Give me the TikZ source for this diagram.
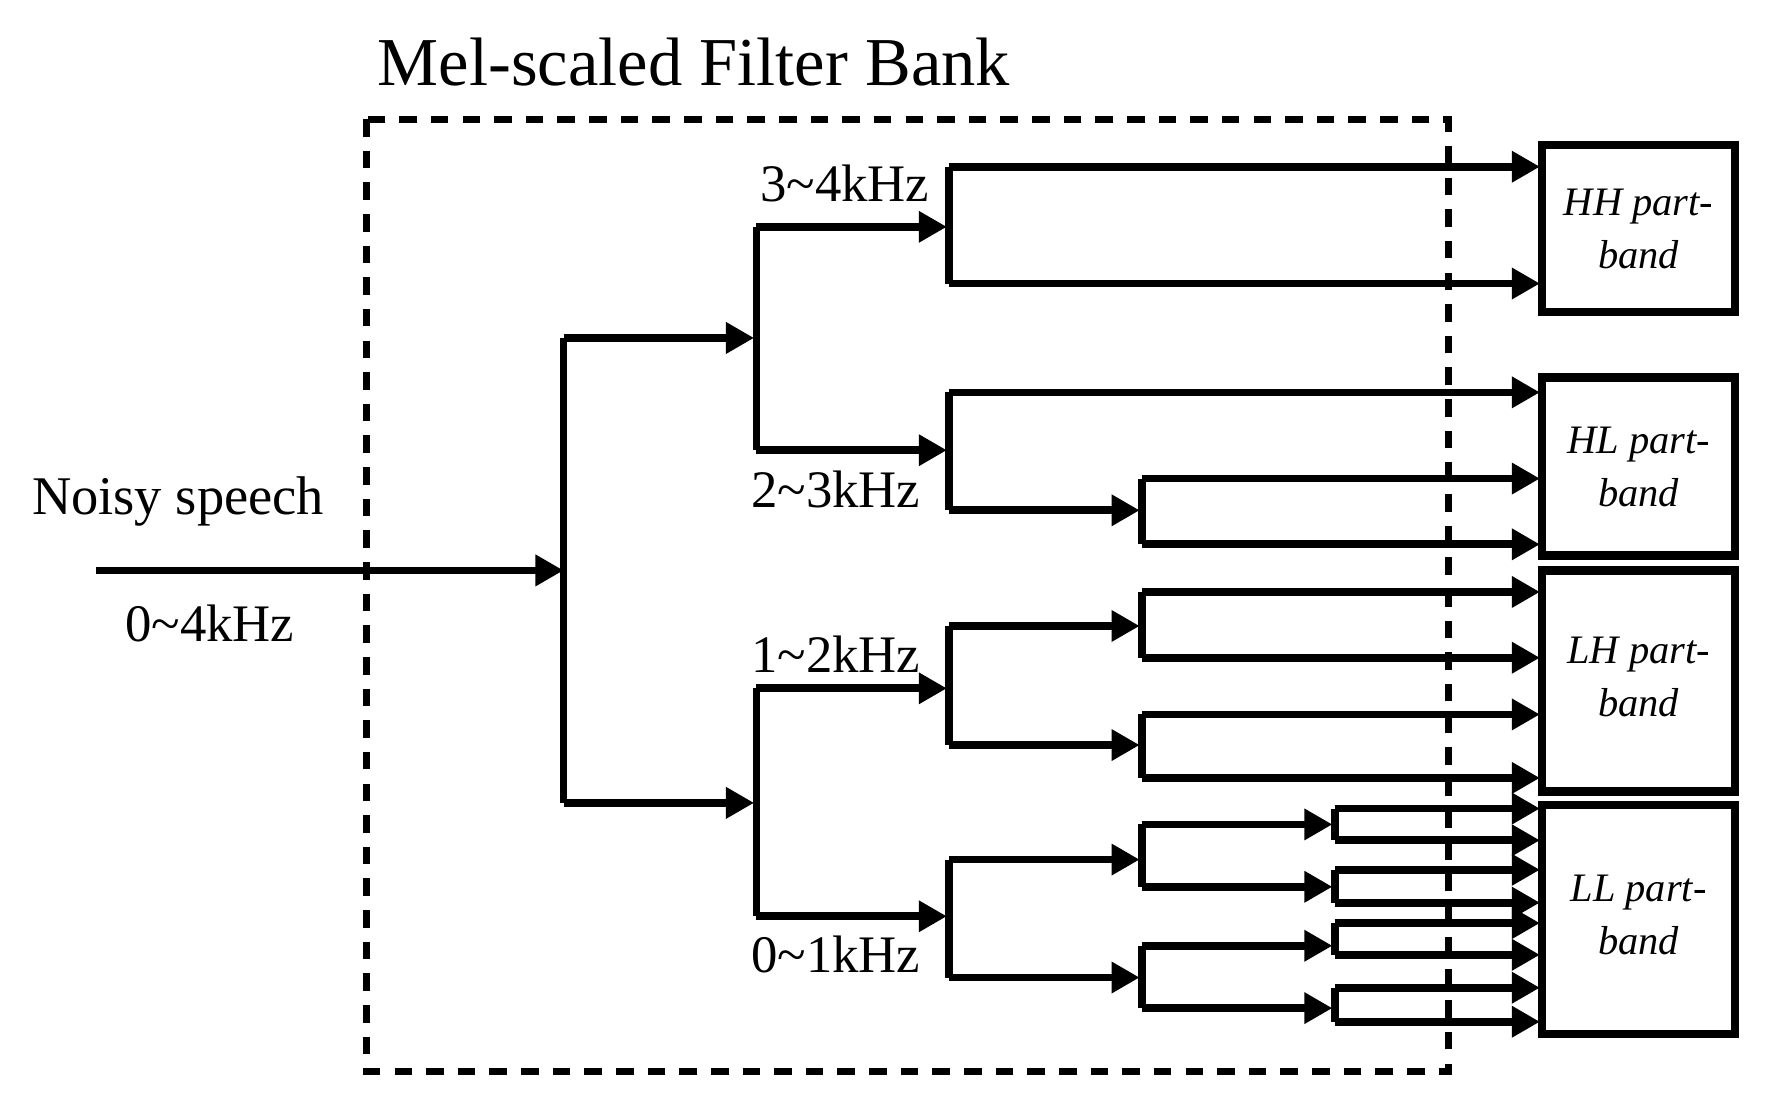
\documentclass[tikz,border=0pt]{standalone}
\usepackage{fontspec}
\setmainfont{Liberation Serif}
\usetikzlibrary{arrows.meta}
\tikzset{
  sig/.style={line width=2.2pt, -{Triangle[length=8pt,width=8.5pt]}},
  wire/.style={line width=2.2pt},
  band/.style={font=\fontsize{11.5}{15}\selectfont\itshape, align=center},
  freq/.style={font=\fontsize{15}{16}\selectfont}
}
\newcommand{\tld}{\textasciitilde}
\begin{document}
\begin{tikzpicture}[x=0.01134cm, y=-0.01134cm]
\useasboundingbox (0,0) rectangle (1560,978);
% filter bank frame
\draw[line width=2pt, dash pattern=on 5pt off 4pt] (323,105) rectangle (1277,945);
\node[font=\fontsize{19.5}{22}\selectfont] (title) at (612,55) {Mel-scaled Filter Bank};
% part-band boxes
\draw[line width=2.4pt] (1360,128) rectangle (1530,275);
\draw[line width=2.4pt] (1360,333) rectangle (1530,490);
\draw[line width=2.4pt] (1360,503) rectangle (1530,698);
\draw[line width=2.4pt] (1360,710) rectangle (1530,912);
\node[band] (hh) at (1445,202) {HH part-\\band};
\node[band] (hl) at (1445,412) {HL part-\\band};
\node[band] (lh) at (1445,597) {LH part-\\band};
\node[band] (ll) at (1445,807) {LL part-\\band};
% input
\coordinate (in) at (85,503);
\coordinate (s0) at (497,503);
\draw[sig] (in) -- (s0);
\node[font=\fontsize{15.5}{17}\selectfont] (noisy) at (157,442) {Noisy speech};
\node[freq] (full) at (185,550) {0\tld4kHz};
% first split
\draw[wire] (497,298) -- (497,708);
\draw[sig] (497,298) -- (665,298);
\draw[sig] (497,708) -- (665,708);
% second split
\draw[wire] (667,200) -- (667,397);
\draw[sig] (667,200) -- (835,200);
\draw[sig] (667,397) -- (835,397);
\draw[wire] (667,607) -- (667,808);
\draw[sig] (667,607) -- (835,607);
\draw[sig] (667,808) -- (835,808);
\node[freq] (f34) at (745,162) {3\tld4kHz};
\node[freq] (f23) at (737,432) {2\tld3kHz};
\node[freq] (f12) at (737,577) {1\tld2kHz};
\node[freq] (f01) at (737,842) {0\tld1kHz};
% 3~4kHz
\draw[wire] (837,147) -- (837,250);
\draw[sig] (837,147) -- (1358,147);
\draw[sig] (837,250) -- (1358,250);
% 2~3kHz
\draw[wire] (837,346) -- (837,450);
\draw[sig] (837,346) -- (1358,346);
\draw[sig] (837,450) -- (1005,450);
\draw[wire] (1007,422) -- (1007,480);
\draw[sig] (1007,422) -- (1358,422);
\draw[sig] (1007,480) -- (1358,480);
% 1~2kHz
\draw[wire] (837,552) -- (837,657);
\draw[sig] (837,552) -- (1005,552);
\draw[sig] (837,657) -- (1005,657);
\draw[wire] (1007,522) -- (1007,580);
\draw[sig] (1007,522) -- (1358,522);
\draw[sig] (1007,580) -- (1358,580);
\draw[wire] (1007,630) -- (1007,686);
\draw[sig] (1007,630) -- (1358,630);
\draw[sig] (1007,686) -- (1358,686);
% 0~1kHz
\draw[wire] (837,758) -- (837,862);
\draw[sig] (837,758) -- (1005,758);
\draw[sig] (837,862) -- (1005,862);
\draw[wire] (1007,727) -- (1007,782);
\draw[sig] (1007,727) -- (1175,727);
\draw[sig] (1007,782) -- (1175,782);
\draw[wire] (1007,834) -- (1007,889);
\draw[sig] (1007,834) -- (1175,834);
\draw[sig] (1007,889) -- (1175,889);
\foreach \a/\b in {713/741, 767/796, 814/842, 871/901}{
  \draw[wire] (1177,\a) -- (1177,\b);
  \draw[sig] (1177,\a) -- (1358,\a);
  \draw[sig] (1177,\b) -- (1358,\b);
}
\end{tikzpicture}
\end{document}
